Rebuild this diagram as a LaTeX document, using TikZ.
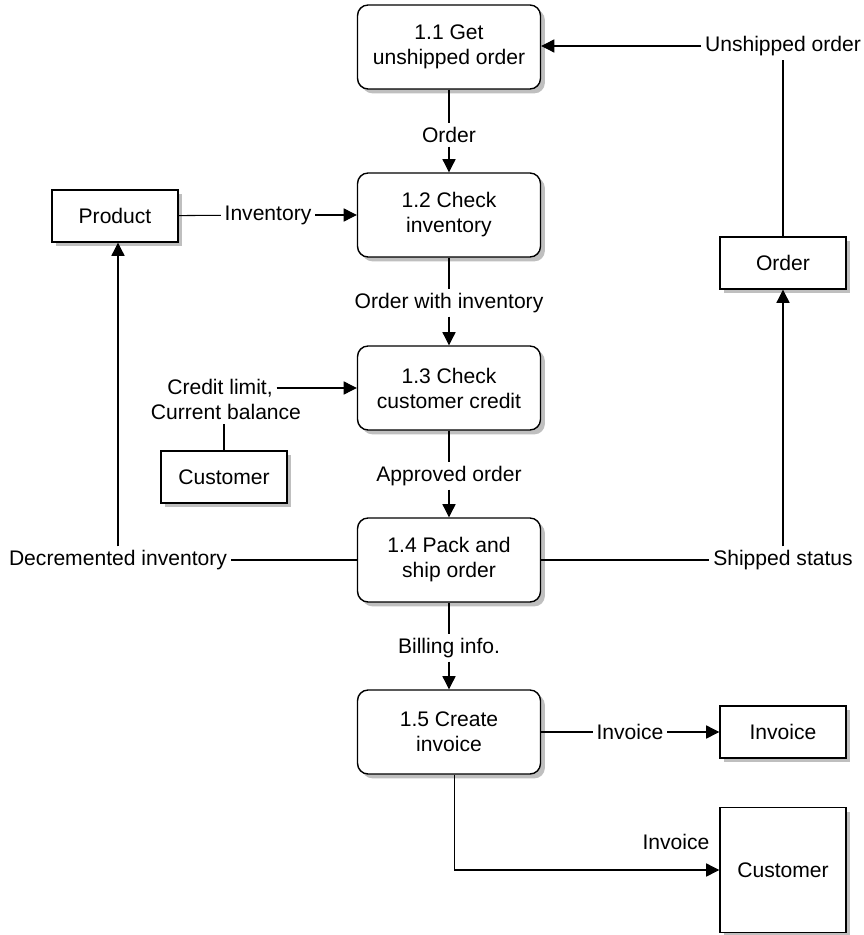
\documentclass[tikz,border=0pt]{standalone}
\usepackage{fontspec}
\setmainfont{Liberation Sans}
\usetikzlibrary{arrows.meta,shadows}

\tikzset{
  process/.style={draw, line width=0.8pt, rounded corners=6pt, fill=white,
    minimum width=3.66cm, minimum height=1.68cm, align=center,
    drop shadow={shadow xshift=2.5pt, shadow yshift=-2.5pt, fill=black!25, opacity=1}},
  store/.style={draw, line width=0.8pt, fill=white,
    minimum width=2.52cm, minimum height=1.04cm,
    drop shadow={shadow xshift=2.5pt, shadow yshift=-2.5pt, fill=black!25, opacity=1}},
  flowlabel/.style={inner sep=2pt, align=center},
  link/.style={line width=0.6pt},
  flow/.style={line width=0.6pt, -{Triangle[length=7.5pt,width=7.5pt]}}
}

\begin{document}
\begin{tikzpicture}[x=0.02cm, y=-0.02cm, font=\fontsize{12}{14.2}\selectfont]
  \useasboundingbox (0,0) rectangle (863,935);

  % processes
  \node[process] (get)    at (449,47)  {1.1 Get\\unshipped order};
  \node[process] (check)  at (449,215) {1.2 Check\\inventory};
  \node[process] (credit) at (449,388) {1.3 Check\\customer credit};
  \node[process] (ship)   at (449,560) {1.4 Pack and\\ship order};
  \node[process] (bill)   at (449,732) {1.5 Create\\invoice};

  % data stores
  \node[store] (product)  at (115,216) {Product};
  \node[store] (customer) at (224,477) {Customer};
  \node[store] (order)    at (783,263) {Order};
  \node[store] (invoice)  at (783,732) {Invoice};
  \node[store, minimum height=2.5cm] (client) at (783,870) {Customer};

  % flow labels
  \node[flowlabel] (lorder)    at (449,135) {Order};
  \node[flowlabel] (linv)      at (268,215) {Inventory};
  \node[flowlabel] (lunship)   at (783,46)  {Unshipped order};
  \node[flowlabel] (lowi)      at (449,303) {Order with inventory};
  \node[flowlabel] (lcredit)   at (220,388) {Credit limit,};
  \node[flowlabel] (lbalance)  at (226,412) {Current balance};
  \node[flowlabel] (lapproved) at (449,476) {Approved order};
  \node[flowlabel] (ldecr)     at (118,560) {Decremented inventory};
  \node[flowlabel] (lshipped)  at (783,560) {Shipped status};
  \node[flowlabel] (lbilling)  at (449,648) {Billing info.};
  \node[flowlabel] (linvoice)  at (630,732) {Invoice};
  \node[flowlabel] (lsend)     at (676,842) {Invoice};

  % flows
  \draw[link] (get) -- (lorder);
  \draw[flow] (lorder) -- (check);
  \draw[link] (product) -- (linv);
  \draw[flow] (linv) -- (check);
  \draw[link] (order) -- (lunship);
  \draw[flow] (lunship.west) -- (lunship.west -| get.east);
  \draw[link] (check) -- (lowi);
  \draw[flow] (lowi) -- (credit);
  \draw[flow] (lcredit.east) -- (lcredit.east -| credit.west);
  \draw[link] (customer.north) -- (customer.north |- lbalance.south);
  \draw[link] (credit) -- (lapproved);
  \draw[flow] (lapproved) -- (ship);
  \draw[link] (ship) -- (ldecr);
  \draw[flow] (ldecr.north) -- (ldecr.north |- product.south);
  \draw[link] (ship) -- (lshipped);
  \draw[flow] (lshipped) -- (order);
  \draw[link] (ship) -- (lbilling);
  \draw[flow] (lbilling) -- (bill);
  \draw[link] (bill) -- (linvoice);
  \draw[flow] (linvoice) -- (invoice);
  \draw[flow] ([xshift=3pt]bill.south) |- (client.west);
\end{tikzpicture}
\end{document}
